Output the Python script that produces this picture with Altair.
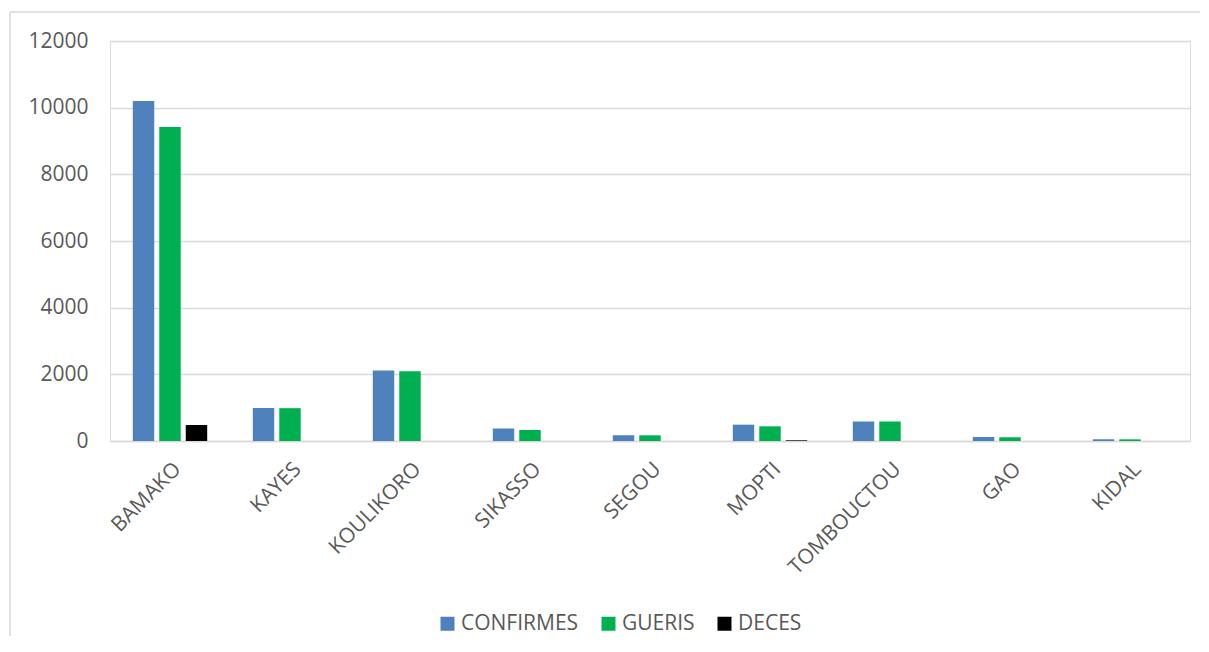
import altair as alt
import pandas as pd

regions = ["BAMAKO", "KAYES", "KOULIKORO", "SIKASSO", "SEGOU", "MOPTI", "TOMBOUCTOU", "GAO", "KIDAL"]
series = ["CONFIRMES", "GUERIS", "DECES"]
confirmes = [10200, 990, 2115, 375, 170, 490, 585, 120, 52]
gueris = [9420, 985, 2095, 330, 170, 440, 585, 112, 50]
deces = [480, 0, 0, 0, 0, 20, 0, 0, 0]
colors = ["#4F81BD", "#00B050", "#000000"]
y_ticks = [0, 2000, 4000, 6000, 8000, 10000, 12000]

rows = []
for i, r in enumerate(regions):
    for s, vals in zip(series, [confirmes, gueris, deces]):
        rows.append({"region": r, "serie": s, "value": vals[i]})
df = pd.DataFrame(rows)

FONT = "Open Sans"
GREY = "#595959"
GRID = "#D9D9D9"
FS = 21

bars = alt.Chart(df).mark_bar().encode(
    x=alt.X("region:N", sort=regions, title=None,
            scale=alt.Scale(paddingInner=0.38, paddingOuter=0.19),
            axis=alt.Axis(labelAngle=-45, labelAlign="right", labelBaseline="top",
                          labelPadding=17, labelFontSize=FS, labelFont=FONT,
                          labelColor=GREY, ticks=False, domainColor=GRID,
                          domainWidth=1.5, grid=False)),
    xOffset=alt.XOffset("serie:N", sort=series,
                        scale=alt.Scale(paddingInner=0.19, paddingOuter=0)),
    y=alt.Y("value:Q", title=None,
            scale=alt.Scale(domain=[0, 12000], nice=False),
            axis=alt.Axis(values=y_ticks, format="d", labelFontSize=FS, labelFont=FONT,
                          labelColor=GREY, ticks=False, domain=False,
                          gridColor=GRID, gridWidth=1.5, labelPadding=22)),
    color=alt.Color("serie:N", sort=series,
                    scale=alt.Scale(domain=series, range=colors),
                    legend=alt.Legend(title=None, orient="none", direction="horizontal",
                                      legendX=327, legendY=572, symbolType="square",
                                      symbolSize=196, symbolStrokeWidth=0,
                                      labelFontSize=FS, labelFont=FONT, labelColor=GREY,
                                      labelOffset=3, columnPadding=19)),
)

border_top = alt.Chart(pd.DataFrame({"k": [0]})).mark_rule(color=GRID, strokeWidth=1.5).encode(
    x=alt.value(-100), x2=alt.value(1200), y=alt.value(-29))
border_left = alt.Chart(pd.DataFrame({"k": [0]})).mark_rule(color=GRID, strokeWidth=1.5).encode(
    x=alt.value(-100), y=alt.value(-29), y2=alt.value(640))

chart = alt.layer(border_top, border_left, bars).properties(
    width=1080, height=400,
    autosize=alt.AutoSizeParams(type="none"),
    padding={"left": 102, "top": 33, "right": 10, "bottom": 195},
).configure_view(stroke=None).configure(background="white")

chart.save("out.html", embed_options={"renderer": "svg", "actions": False})
